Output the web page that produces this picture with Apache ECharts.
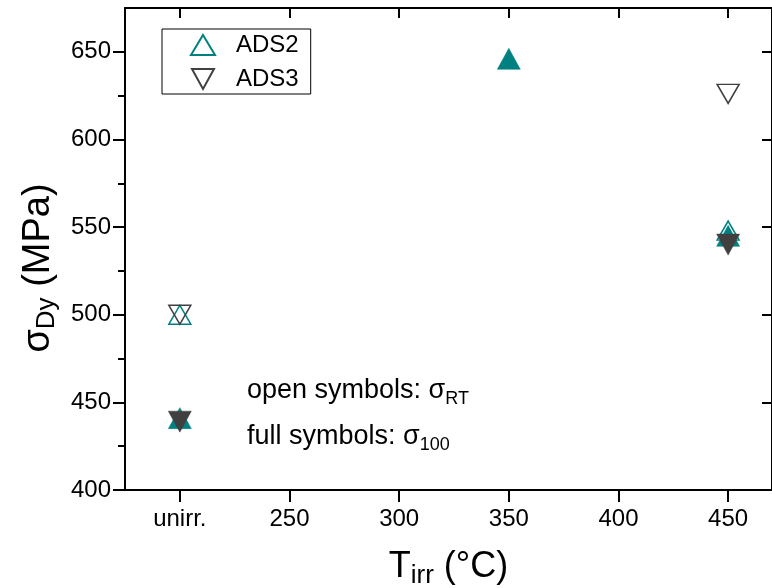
<!DOCTYPE html>
<html>
<head>
<meta charset="utf-8">
<script src="https://cdn.jsdelivr.net/npm/echarts@6/dist/echarts.min.js"></script>
<style>
  html, body { margin: 0; padding: 0; background: #fff; }
  #chart { width: 772px; height: 588px; }
</style>
</head>
<body>
<div id="chart"></div>
<script>
// Irradiation temperatures (200 stands for the unirradiated state)
const tempTicks = [200, 250, 300, 350, 400, 450];
const tickLabels = ['unirr.', '250', '300', '350', '400', '450'];

// Stress axis ticks (MPa)
const stressMajor = [400, 450, 500, 550, 600, 650];
const stressMinor = [425, 475, 525, 575, 625];

// Dynamic yield stress (MPa): open = room temperature, full = 100 °C
const ads2Open = [[200, 500], [450, 548]];
const ads2Full = [[200, 441], [350, 646], [450, 545]];
const ads3Open = [[200, 500], [450, 626]];
const ads3Full = [[200, 439], [450, 540]];

const FONT = 'Liberation Sans, Arial, sans-serif';
const TEAL = '#008080';
const GREY = '#404040';

const labelMap = {};
tempTicks.forEach((t, i) => { labelMap[t] = tickLabels[i]; });

const chart = echarts.init(document.getElementById('chart'), null, { renderer: 'canvas' });

const axisLine = { show: true, onZero: false, lineStyle: { color: '#000', width: 2 } };
const tickLine = { width: 2, color: '#000' };

const subRich = (size, sub, lh) => ({
  m: { fontFamily: FONT, fontSize: size, color: '#000', fill: '#000', lineHeight: lh, verticalAlign: 'middle' },
  sub: { fontFamily: FONT, fontSize: sub, color: '#000', fill: '#000', lineHeight: sub, verticalAlign: 'bottom' }
});

chart.setOption({
  backgroundColor: '#fff',
  animation: false,
  grid: { left: 125, top: 8, right: 0, bottom: 98, containLabel: false, outerBoundsMode: 'none' },
  legend: {
    data: [
      { name: 'ADS2', icon: 'triangle' },
      { name: 'ADS3', icon: 'path://M0,0L22,0L11,20Z' }
    ],
    orient: 'vertical',
    left: 162,
    top: 29,
    padding: [4, 12, 3, 28],
    itemWidth: 24,
    itemHeight: 20,
    itemGap: 10,
    borderColor: '#000',
    borderWidth: 1,
    borderRadius: 0,
    backgroundColor: '#fff',
    textStyle: { fontFamily: FONT, fontSize: 24, color: '#000', padding: [0, 0, 0, 16] }
  },
  xAxis: [
    {
      type: 'value',
      min: 175,
      max: 470,
      position: 'bottom',
      name: '{m|T}{sub|irr}{m| (°C)}',
      nameLocation: 'middle',
      nameGap: 55,
      nameTextStyle: { rich: subRich(36, 26, 44) },
      axisLine: axisLine,
      axisTick: { show: true, inside: false, length: 12, customValues: tempTicks, lineStyle: tickLine },
      axisLabel: {
        customValues: tempTicks,
        margin: 17,
        fontFamily: FONT, fontSize: 24, color: '#000',
        formatter: v => labelMap[v] !== undefined ? labelMap[v] : ''
      },
      splitLine: { show: false }
    },
    {
      type: 'value',
      min: 175,
      max: 470,
      position: 'top',
      axisLine: axisLine,
      axisTick: { show: true, inside: true, length: 10, customValues: tempTicks, lineStyle: tickLine },
      axisLabel: { show: false },
      splitLine: { show: false }
    }
  ],
  yAxis: [
    {
      type: 'value',
      min: 400,
      max: 675,
      position: 'left',
      name: '{m|σ}{sub|Dy}{m| (MPa)}',
      nameLocation: 'middle',
      nameGap: 64,
      nameTextStyle: { padding: [0, 38, 0, 0], rich: subRich(38, 26, 44) },
      axisLine: axisLine,
      axisTick: { show: true, inside: false, length: 12, customValues: stressMajor, lineStyle: tickLine },
      axisLabel: { customValues: stressMajor, margin: 14, fontFamily: FONT, fontSize: 24, color: '#000' },
      splitLine: { show: false }
    },
    {
      type: 'value',
      min: 400,
      max: 675,
      position: 'left',
      axisLine: { show: false },
      axisTick: { show: true, inside: false, length: 7, customValues: stressMinor, lineStyle: tickLine },
      axisLabel: { show: false },
      splitLine: { show: false }
    },
    {
      type: 'value',
      min: 400,
      max: 675,
      position: 'right',
      axisLine: axisLine,
      axisTick: { show: true, inside: true, length: 10, customValues: stressMajor, lineStyle: tickLine },
      axisLabel: { show: false },
      splitLine: { show: false }
    }
  ],
  series: [
    {
      name: 'ADS2',
      type: 'scatter',
      data: ads2Open,
      symbol: 'triangle',
      symbolSize: [22, 19],
      itemStyle: { color: '#fff', borderColor: TEAL, borderWidth: 1.5, opacity: 1 },
      z: 2
    },
    {
      name: 'ADS2 full',
      type: 'scatter',
      data: ads2Full,
      symbol: 'triangle',
      symbolSize: [23, 21],
      itemStyle: { color: TEAL, borderColor: TEAL, borderWidth: 0.5, opacity: 1 },
      z: 3
    },
    {
      name: 'ADS3',
      type: 'scatter',
      data: ads3Open,
      symbol: 'triangle',
      symbolRotate: 180,
      symbolSize: [22, 19],
      itemStyle: { color: 'rgba(255,255,255,0)', borderColor: GREY, borderWidth: 1.5, opacity: 1 },
      z: 4
    },
    {
      name: 'ADS3 full',
      type: 'scatter',
      data: ads3Full,
      symbol: 'triangle',
      symbolRotate: 180,
      symbolSize: [23, 21],
      itemStyle: { color: GREY, borderColor: GREY, borderWidth: 0.5, opacity: 1 },
      z: 5
    }
  ],
  graphic: [
    {
      type: 'text',
      left: 247,
      top: 377,
      style: { text: '{m|open symbols: σ}{sub|RT}', rich: subRich(27, 18, 36) }
    },
    {
      type: 'text',
      left: 247,
      top: 423,
      style: { text: '{m|full symbols: σ}{sub|100}', rich: subRich(27, 18, 36) }
    }
  ]
});
</script>
</body>
</html>
